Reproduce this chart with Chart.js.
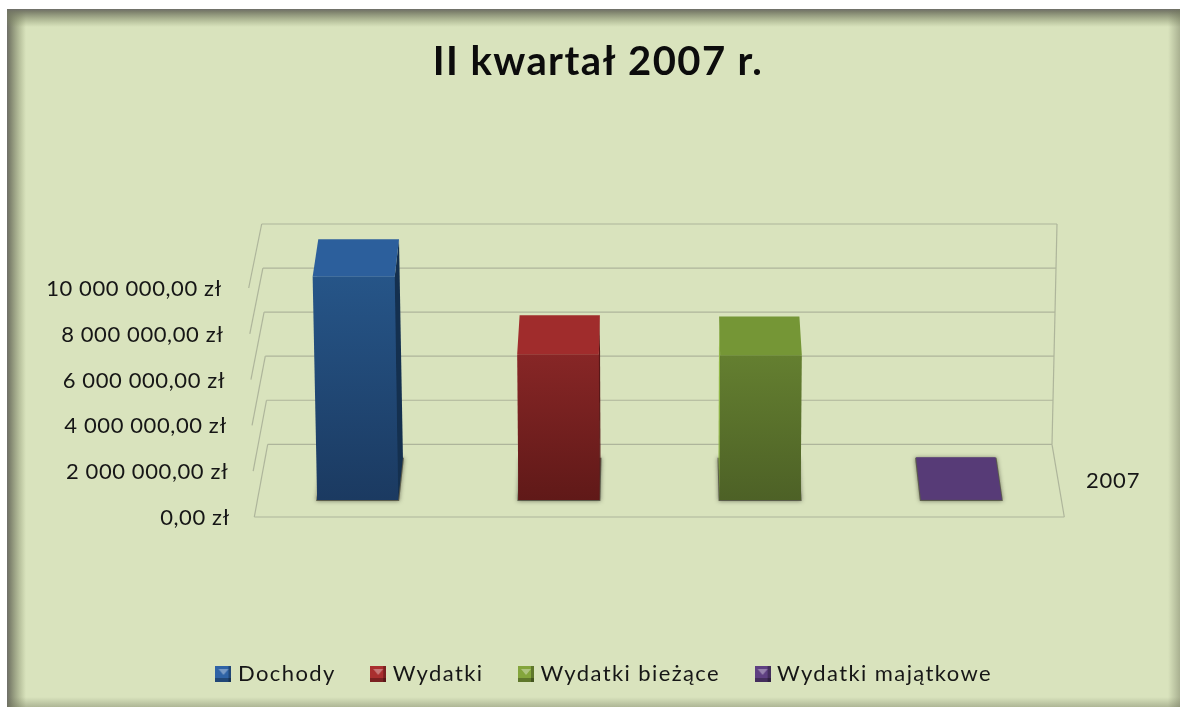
<!DOCTYPE html>
<html>
<head>
<meta charset="utf-8">
<style>
  html, body { margin: 0; padding: 0; background: #fff; }
  #wrap { width: 1180px; height: 707px; }
</style>
<script src="https://cdn.jsdelivr.net/npm/chart.js@4"></script>
</head>
<body>
<div id="wrap"><canvas id="chart"></canvas></div>
<script>
const categories = ['2007'];
const seriesNames = ['Dochody', 'Wydatki', 'Wydatki bieżące', 'Wydatki majątkowe'];
const dochody = [9970000];
const wydatki = [6500000];
const wydatkiBiezace = [6450000];
const wydatkiMajatkowe = [20000];
const tickStep = 2000000;
const chartTitle = 'II kwartał 2007 r.';

const FONT = 'Lato, Carlito, "Open Sans", sans-serif';
const TEXT = '#161616';
const GRID = '#aeb59b';
const BG = '#d9e3bd';
// the original text is set wider than any installed font
const WIDE = '1.4px';

// front top, front bottom, top face, side face, legend
const looks = [
  { front: ['#265588', '#1b3a61'], top: '#2c5f9c', side: '#14304f', icon: '#2f63a6' },
  { front: ['#872626', '#601918'], top: '#a02c2c', side: '#571818', icon: '#a92f2f' },
  { front: ['#647f30', '#4d6126'], top: '#759636', side: '#8fb644', icon: '#84a53c' },
  { front: ['#573b77', '#573b77'], top: '#573b77', side: '#6d4c94', icon: '#5f4082' }
];

const CX = 659;
const skewX = (x, h) => x + (x - CX) * 5.9e-5 * h;
const backX = (x, d) => x + (CX - x) * 0.000435 * d;
const depth = h => 42.3 - 0.022 * h;

function poly(ctx, pts, fill) {
  ctx.beginPath();
  pts.forEach((p, i) => i ? ctx.lineTo(p[0], p[1]) : ctx.moveTo(p[0], p[1]));
  ctx.closePath();
  ctx.fillStyle = fill;
  ctx.fill();
}

function line(ctx, x1, y1, x2, y2) {
  ctx.beginPath();
  ctx.moveTo(x1, y1);
  ctx.lineTo(x2, y2);
  ctx.stroke();
}

function moneyLabel(v) {
  const whole = String(v).replace(/\B(?=(\d{3})+$)/g, ' ');
  return whole + ',00 zł';
}

function legendIcon(color) {
  const c = document.createElement('canvas');
  c.width = 16; c.height = 16;
  const g = c.getContext('2d');
  g.fillStyle = color;
  g.fillRect(0, 0, 16, 16);
  g.fillStyle = 'rgba(0,0,0,0.28)';
  g.fillRect(0, 12, 16, 4);
  g.fillRect(13, 0, 3, 16);
  g.fillStyle = 'rgba(255,255,255,0.35)';
  g.beginPath(); g.moveTo(3, 3); g.lineTo(13, 3); g.lineTo(8, 9); g.closePath(); g.fill();
  return c;
}

const frame = {
  id: 'frame',
  beforeLayout(chart) {
    chart.ctx.letterSpacing = WIDE;
  },
  beforeDraw(chart) {
    const ctx = chart.ctx, w = chart.width, h = chart.height;
    const x0 = 7, y0 = 9, x1 = 1180, y1 = 707;
    ctx.letterSpacing = WIDE;
    ctx.save();
    ctx.fillStyle = '#ffffff';
    ctx.fillRect(0, 0, w, h);
    ctx.fillStyle = BG;
    ctx.fillRect(x0, y0, x1 - x0, y1 - y0);
    let g = ctx.createLinearGradient(x0, 0, x0 + 19, 0);
    g.addColorStop(0, 'rgba(110,110,105,1)');
    g.addColorStop(0.15, 'rgba(115,118,100,0.9)');
    g.addColorStop(1, 'rgba(130,140,100,0)');
    ctx.fillStyle = g;
    ctx.fillRect(x0, y0, 19, y1 - y0);
    g = ctx.createLinearGradient(0, y0, 0, y0 + 18);
    g.addColorStop(0, 'rgba(110,110,105,1)');
    g.addColorStop(0.15, 'rgba(115,118,100,0.9)');
    g.addColorStop(1, 'rgba(130,140,100,0)');
    ctx.fillStyle = g;
    ctx.fillRect(x0, y0, x1 - x0, 18);
    g = ctx.createLinearGradient(1168, 0, 1180, 0);
    g.addColorStop(0, 'rgba(110,115,90,0)');
    g.addColorStop(1, 'rgba(110,115,90,0.45)');
    ctx.fillStyle = g;
    ctx.fillRect(1168, y0, 12, y1 - y0);
    g = ctx.createLinearGradient(0, 697, 0, 707);
    g.addColorStop(0, 'rgba(110,115,90,0)');
    g.addColorStop(1, 'rgba(110,115,90,0.4)');
    ctx.fillStyle = g;
    ctx.fillRect(x0, 697, x1 - x0, 10);
    ctx.restore();
  },
  afterLayout(chart) {
    // legend sits a little right of the title in the original
    chart.legend.left += 8;
    chart.legend.right += 8;
  },
  beforeDatasetsDraw(chart) {
    const ctx = chart.ctx, yl = chart.scales.y, yw = chart.scales.yWall;
    ctx.save();
    ctx.strokeStyle = GRID;
    ctx.lineWidth = 1.2;
    yl.ticks.forEach(t => {
      const by = yw.getPixelForValue(t.value), fy = yl.getPixelForValue(t.value);
      const bl = 267.7 - (444.3 - by) * 0.0273;
      const br = 1052 + (444.3 - by) * 0.0227;
      const fl = 254.3 - (517 - fy) * 0.0245;
      line(ctx, fl, fy, bl, by);
      line(ctx, bl, by, br, by);
      // tick labels follow the slant of the side wall
      ctx.save();
      ctx.letterSpacing = '0.6px';
      ctx.fillStyle = TEXT;
      ctx.font = '22px ' + FONT;
      ctx.textAlign = 'right';
      ctx.textBaseline = 'middle';
      ctx.fillText(moneyLabel(t.value), fl - 24.3 - (517 - fy) * 0.0105, fy + 1);
      ctx.restore();
    });
    const top = yw.getPixelForValue(yl.max), floor = yw.getPixelForValue(0), front = yl.getPixelForValue(0);
    line(ctx, 1052, floor, 1052 + (floor - top) * 0.0227, top);
    line(ctx, 254.3, front, 1064.3, front);
    line(ctx, 1052, floor, 1064.3, front);

    ctx.save();
    ctx.letterSpacing = '0.8px';
    ctx.fillStyle = TEXT;
    ctx.font = '22px ' + FONT;
    ctx.textAlign = 'left';
    ctx.textBaseline = 'middle';
    ctx.fillText(categories[0], 1086, 481);
    ctx.restore();

    // soft shadow under each column
    chart.data.datasets.forEach((ds, i) => {
      const el = chart.getDatasetMeta(i).data[0];
      const l = el.x - el.width / 2, r = el.x + el.width / 2, d = depth(0);
      ctx.save();
      ctx.shadowColor = 'rgba(50,50,40,0.8)';
      ctx.shadowBlur = 4;
      poly(ctx, [[l - 1, el.base + 1], [r + 1, el.base + 1], [backX(r, d) + 1, el.base - d], [backX(l, d) - 1, el.base - d]], 'rgba(70,70,55,0.75)');
      ctx.restore();
    });
    ctx.restore();
  },
  afterDatasetsDraw(chart) {
    const ctx = chart.ctx;
    chart.data.datasets.forEach((ds, i) => {
      const el = chart.getDatasetMeta(i).data[0], look = looks[i];
      const h = el.base - el.y, d = depth(h), d0 = depth(0);
      const l0 = el.x - el.width / 2, r0 = el.x + el.width / 2;
      const fl = skewX(l0, h), fr = skewX(r0, h);
      const bl = backX(fl, d), br = backX(fr, d), by = el.y - d;
      // the side towards the middle of the floor is the one we can see
      if (el.x < CX) {
        poly(ctx, [[fr, el.y], [br, by], [backX(r0, d0), el.base - d0], [r0, el.base]], look.side);
      } else {
        poly(ctx, [[fl, el.y], [bl, by], [backX(l0, d0), el.base - d0], [l0, el.base]], look.side);
      }
      const g = ctx.createLinearGradient(0, el.y, 0, el.base);
      g.addColorStop(0, look.front[0]);
      g.addColorStop(1, look.front[1]);
      poly(ctx, [[fl, el.y], [fr, el.y], [r0, el.base], [l0, el.base]], g);
      poly(ctx, [[fl, el.y], [fr, el.y], [br, by], [bl, by]], look.top);
    });
  }
};

const allSeries = [dochody, wydatki, wydatkiBiezace, wydatkiMajatkowe];

new Chart(document.getElementById('chart'), {
  type: 'bar',
  plugins: [frame],
  data: {
    labels: categories,
    datasets: allSeries.map((values, i) => ({
      label: seriesNames[i],
      data: values,
      yAxisID: 'yBars',
      clip: false,
      backgroundColor: looks[i].front[1],
      categoryPercentage: 0.995,
      barPercentage: 0.4025,
      pointStyle: legendIcon(looks[i].icon)
    }))
  },
  options: {
    responsive: true,
    maintainAspectRatio: false,
    animation: false,
    layout: { padding: { left: 16, right: 0, top: 0, bottom: 12 } },
    plugins: {
      title: {
        display: true,
        text: chartTitle,
        color: '#0c0c0c',
        font: { family: FONT, size: 40, weight: 'bold' },
        padding: { top: 38, bottom: 202 }
      },
      legend: {
        position: 'bottom',
        labels: {
          color: TEXT,
          font: { family: FONT, size: 22 },
          usePointStyle: true,
          pointStyleWidth: 7,
          padding: 39,
          generateLabels: chart => chart.data.datasets.map((ds, i) => ({
            text: ds.label,
            pointStyle: ds.pointStyle,
            fontColor: TEXT,
            datasetIndex: i
          }))
        }
      },
      tooltip: { enabled: false }
    },
    scales: {
      x: {
        grid: { display: false },
        border: { display: false },
        ticks: { display: false },
        afterFit: s => { s.height = 107; }
      },
      y: {
        min: 0,
        max: 10000000,
        position: 'left',
        ticks: { display: false, stepSize: tickStep },
        grid: { display: false },
        border: { display: false },
        afterFit: s => { s.width = 239; }
      },
      // same money scale, seen at the plane the columns stand on
      yBars: {
        display: false,
        min: -759000,
        max: 9464000
      },
      // and at the back wall
      yWall: {
        position: 'right',
        min: -3300000,
        max: 7095000,
        ticks: { display: false },
        grid: { display: false },
        border: { display: false },
        afterFit: s => { s.width = 116; }
      }
    }
  }
});
</script>
</body>
</html>
